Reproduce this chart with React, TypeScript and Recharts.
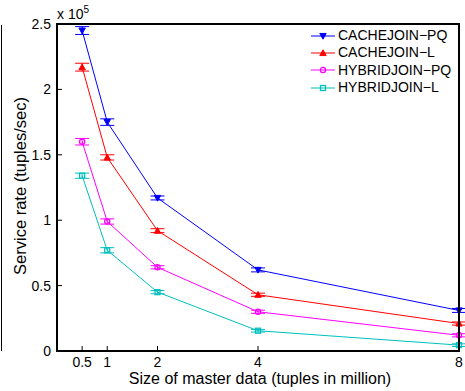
import {
  LineChart,
  Line,
  XAxis,
  YAxis,
  ErrorBar,
} from "recharts";

const sizes = [0.5, 1, 2, 4, 8];
const xTicks = [0.5, 1, 2, 4, 8];
const yTicks = [0, 50000, 100000, 150000, 200000, 250000];

const cachePQ = [245000, 175000, 117000, 62000, 31000];
const cacheL = [217000, 148000, 92000, 43000, 21000];
const hybridPQ = [160000, 99000, 64000, 30000, 12000];
const hybridL = [134000, 77000, 45000, 15500, 4500];

const cachePQErr = [3000, 2500, 1500, 1500, 1500];
const cacheLErr = [3000, 2000, 1500, 1200, 1200];
const hybridPQErr = [2500, 2000, 1200, 1200, 1200];
const hybridLErr = [2000, 2000, 1200, 1000, 1000];

const series = [
  { key: "cpq", label: "CACHEJOIN\u2212PQ", color: "#0000FF", marker: "down", values: cachePQ, err: cachePQErr },
  { key: "cl", label: "CACHEJOIN\u2212L", color: "#FF0000", marker: "up", values: cacheL, err: cacheLErr },
  { key: "hpq", label: "HYBRIDJOIN\u2212PQ", color: "#FF00FF", marker: "circle", values: hybridPQ, err: hybridPQErr },
  { key: "hl", label: "HYBRIDJOIN\u2212L", color: "#00BFBF", marker: "square", values: hybridL, err: hybridLErr },
];

const data = sizes.map((s, i) => {
  const row: Record<string, number> = { size: s };
  series.forEach((sr) => {
    row[sr.key] = sr.values[i];
    row[sr.key + "Err"] = sr.err[i];
  });
  return row;
});

const FONT = "'Liberation Sans', Arial, sans-serif";

function Marker({ type, cx, cy, color }: { type: string; cx: number; cy: number; color: string }) {
  const r = 3.2;
  if (type === "down")
    return <polygon points={`${cx - r},${cy - r * 0.8} ${cx + r},${cy - r * 0.8} ${cx},${cy + r}`} fill={color} stroke={color} strokeWidth={1} />;
  if (type === "up")
    return <polygon points={`${cx - r},${cy + r * 0.8} ${cx + r},${cy + r * 0.8} ${cx},${cy - r}`} fill={color} stroke={color} strokeWidth={1} />;
  if (type === "circle")
    return <circle cx={cx} cy={cy} r={2.6} fill="none" stroke={color} strokeWidth={1.3} />;
  return <rect x={cx - 2.5} y={cy - 2.5} width={5} height={5} fill="none" stroke={color} strokeWidth={1.3} />;
}

const BottomTick = (props: any) => {
  const { x, y, payload } = props;
  return (
    <g>
      <line x1={x} y1={y} x2={x} y2={y - 5} stroke="#000" strokeWidth={1} />
      <text x={x} y={y + 16} textAnchor="middle" fontSize={14} fontFamily={FONT} fill="#000">
        {payload.value}
      </text>
    </g>
  );
};

const TopTick = (props: any) => {
  const { x, y } = props;
  return <line x1={x} y1={y} x2={x} y2={y + 5} stroke="#000" strokeWidth={1} />;
};

const LeftTick = (props: any) => {
  const { x, y, payload } = props;
  return (
    <g>
      <line x1={x} y1={y} x2={x + 5} y2={y} stroke="#000" strokeWidth={1} />
      <text x={x - 6} y={y + 5} textAnchor="end" fontSize={14} fontFamily={FONT} fill="#000">
        {payload.value / 100000}
      </text>
    </g>
  );
};

const RightTick = (props: any) => {
  const { x, y } = props;
  return <line x1={x} y1={y} x2={x - 5} y2={y} stroke="#000" strokeWidth={1} />;
};

const LegendBox = () => (
  <div style={{ position: "absolute", left: 311, top: 27, fontFamily: FONT, fontSize: 14, color: "#000" }}>
    {series.map((s) => (
      <div key={s.key} style={{ display: "flex", alignItems: "center", height: 17.3 }}>
        <svg width={26} height={12} style={{ marginRight: 1 }}>
          <line x1={0} y1={6} x2={24} y2={6} stroke={s.color} strokeWidth={1} />
          <Marker type={s.marker} cx={12} cy={6} color={s.color} />
        </svg>
        <span style={{ lineHeight: "17px", whiteSpace: "nowrap" }}>{s.label}</span>
      </div>
    ))}
  </div>
);

export default function App() {
  return (
    <div style={{ position: "absolute", left: 0, top: 0, width: 465, height: 391, background: "#fff" }}>
      {/* edge of the neighbouring plot */}
      <div style={{ position: "absolute", left: 1, top: 25, width: 0, height: 326, borderLeft: "1.5px solid #000" }} />
      <div style={{ position: "absolute", left: 57, top: 4, fontFamily: FONT, fontSize: 14, color: "#000", whiteSpace: "nowrap" }}>
        x 10<sup style={{ fontSize: 10, verticalAlign: 6 }}>5</sup>
      </div>
      <div
        style={{
          position: "absolute",
          left: 20,
          top: 186,
          transform: "translate(-50%, -50%) rotate(-90deg)",
          fontFamily: FONT,
          fontSize: 16.5,
          lineHeight: 1,
          color: "#000",
          whiteSpace: "nowrap",
        }}
      >
        Service rate (tuples/sec)
      </div>
      <div
        style={{
          position: "absolute",
          left: 260,
          top: 379,
          transform: "translate(-50%, -50%)",
          fontFamily: FONT,
          fontSize: 16,
          lineHeight: 1,
          color: "#000",
          whiteSpace: "nowrap",
        }}
      >
        Size of master data (tuples in million)
      </div>
      <div style={{ position: "absolute", left: 0, top: 0 }}>
        <LineChart width={465} height={391} data={data} margin={{ top: 24, right: 6, bottom: 0, left: 0 }}>
          <XAxis
            xAxisId="b"
            dataKey="size"
            type="number"
            domain={[0, 8]}
            ticks={xTicks}
            interval={0}
            height={40}
            tickSize={0}
            tickMargin={0}
            tickLine={false}
            tick={<BottomTick />}
            axisLine={{ stroke: "#000", strokeWidth: 2 }}
          />
          <XAxis
            xAxisId="t"
            orientation="top"
            dataKey="size"
            type="number"
            domain={[0, 8]}
            ticks={xTicks}
            interval={0}
            height={0}
            tickSize={0}
            tickMargin={0}
            tickLine={false}
            tick={<TopTick />}
            axisLine={{ stroke: "#000", strokeWidth: 2 }}
          />
          <YAxis
            yAxisId="l"
            type="number"
            domain={[0, 250000]}
            ticks={yTicks}
            interval={0}
            width={57}
            tickSize={0}
            tickMargin={0}
            tickLine={false}
            tick={<LeftTick />}
            axisLine={{ stroke: "#000", strokeWidth: 2 }}
          />
          <YAxis
            yAxisId="r"
            orientation="right"
            type="number"
            domain={[0, 250000]}
            ticks={yTicks}
            interval={0}
            width={0}
            tickSize={0}
            tickMargin={0}
            tickLine={false}
            tick={<RightTick />}
            axisLine={{ stroke: "#000", strokeWidth: 2 }}
          />
          {series.map((s) => (
            <Line
              key={s.key}
              xAxisId="b"
              yAxisId="l"
              dataKey={s.key}
              name={s.label}
              stroke={s.color}
              strokeWidth={1}
              isAnimationActive={false}
              dot={(p: any) => <Marker key={`${s.key}-${p.index}`} type={s.marker} cx={p.cx} cy={p.cy} color={s.color} />}
              activeDot={false}
            >
              <ErrorBar dataKey={s.key + "Err"} width={7} stroke={s.color} strokeWidth={1} isAnimationActive={false} />
            </Line>
          ))}
        </LineChart>
      </div>
      {/* axes frame around the plot area set by the margins */}
      <svg
        width={465}
        height={391}
        style={{ position: "absolute", left: 0, top: 0, pointerEvents: "none" }}
      >
        <rect x={57} y={24} width={402} height={327} fill="none" stroke="#000" strokeWidth={2} />
      </svg>
      <LegendBox />
    </div>
  );
}
